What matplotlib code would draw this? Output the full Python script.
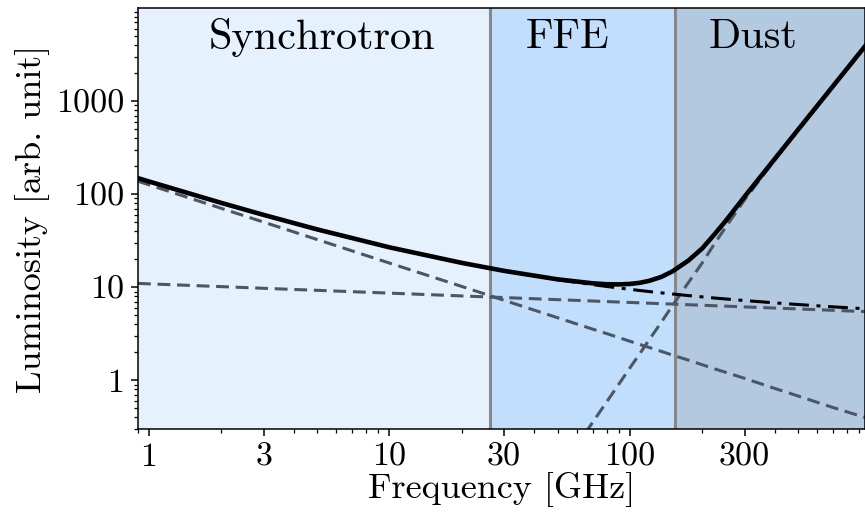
import matplotlib
matplotlib.use("Agg")
import matplotlib.pyplot as plt
import numpy as np
from matplotlib.ticker import FixedLocator, NullFormatter, LogLocator

plt.rcParams['font.family'] = 'serif'
plt.rcParams['font.serif'] = ['cmr10']
plt.rcParams['mathtext.fontset'] = 'cm'
plt.rcParams['axes.unicode_minus'] = False

# Frequencies [GHz] and component luminosities
freq = [0.9, 1, 2, 3, 5, 10, 20, 30, 50, 70, 80, 90, 100, 110, 120, 135, 150, 175, 200,
        225, 250, 300, 400, 500, 700, 950]
synchrotron = [137.7, 126, 70.4, 50.1, 32.6, 18.2, 10.2, 7.24, 4.71, 3.55, 3.18, 2.88, 2.63,
               2.43, 2.26, 2.05, 1.87, 1.65, 1.47, 1.33, 1.22, 1.05, 0.82, 0.68, 0.51, 0.40]
free_free = [11.0, 10.88, 10.16, 9.75, 9.27, 8.65, 8.07, 7.75, 7.36, 7.12, 7.02, 6.94, 6.87,
             6.80, 6.74, 6.66, 6.60, 6.49, 6.41, 6.33, 6.27, 6.15, 5.98, 5.85, 5.65, 5.48]
dust = [2.7e-8, 4.1e-8, 5.3e-7, 2.5e-6, 1.7e-5, 2.3e-4, 3.1e-3, 0.0145, 0.0995, 0.354, 0.585,
        0.912, 1.36, 1.94, 2.70, 4.2, 6.3, 11.2, 18.3, 29.5, 44, 87, 232, 485, 1446, 3874]

region_edges = [26.2, 154]
region_names = ["Synchrotron", "FFE", "Dust"]
region_label_x = [5.24, 55.2, 324]
region_colors = ["#e6f1fe", "#c1dffc", "#b3c9e0"]

xticks = [1, 3, 10, 30, 100, 300]
yticks = [1, 10, 100, 1000]

f = np.array(freq)
s = np.array(synchrotron)
ff = np.array(free_free)
d = np.array(dust)
low = s + ff
total = s + ff + d

fig = plt.figure(figsize=(8.65, 5.13), dpi=100)
ax = fig.add_axes([0.1595, 0.1637, 0.8405, 0.8207])
ax.set_xscale('log')
ax.set_yscale('log')
xmin, xmax = 0.9, 950
ax.set_xlim(xmin, xmax)
ax.set_ylim(0.3, 1.0e4)

edges = [xmin] + region_edges + [xmax]
for i in range(3):
    ax.axvspan(edges[i], edges[i + 1], color=region_colors[i], lw=0, zorder=0)
for e in region_edges:
    ax.axvline(e, color='#888888', lw=2.2, zorder=1)

dcol = '#4d5663'
for comp in (s, ff, d):
    ax.plot(f, comp, ls=(0, (4.2, 2.2)), color=dcol, lw=2.2, zorder=2)
ax.plot(f, low, ls=(0, (6.5, 2.5, 1.3, 2.5)), color='black', lw=2.2, zorder=3)
ax.plot(f, total, ls='-', color='black', lw=3.3, zorder=4, solid_joinstyle='round')

trans = ax.get_xaxis_transform()
for name, xp in zip(region_names, region_label_x):
    ax.text(xp, 0.93, name, transform=trans, ha='center', va='center', fontsize=30.5)

ax.xaxis.set_major_locator(FixedLocator(xticks))
ax.set_xticklabels([str(t) for t in xticks])
ax.xaxis.set_minor_locator(LogLocator(base=10, subs=np.arange(2, 10)))
ax.xaxis.set_minor_formatter(NullFormatter())
ax.yaxis.set_major_locator(FixedLocator(yticks))
ax.set_yticklabels([str(t) for t in yticks])
ax.yaxis.set_minor_locator(LogLocator(base=10, subs=np.arange(2, 10)))
ax.yaxis.set_minor_formatter(NullFormatter())

ax.tick_params(which='major', direction='out', length=5, width=1.1, labelsize=24.5, pad=5)
ax.tick_params(which='minor', direction='out', length=3, width=0.9)
for sp in ax.spines.values():
    sp.set_linewidth(1.1)

ax.set_xlabel("Frequency [GHz]", fontsize=26, labelpad=0)
ax.set_ylabel("Luminosity [arb. unit]", fontsize=26, labelpad=4)

fig.savefig("out.png", dpi=100)
